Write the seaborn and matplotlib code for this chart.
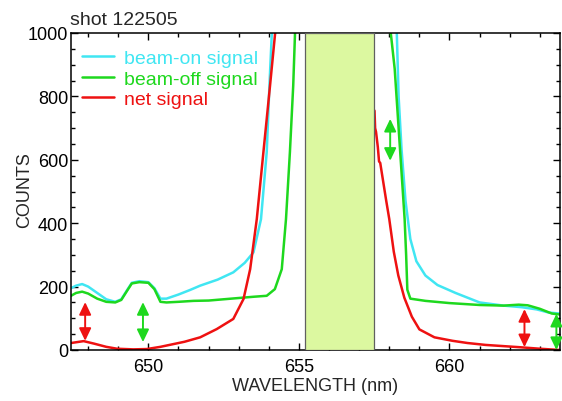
import numpy as np
import pandas as pd
import matplotlib
matplotlib.use("Agg")
import matplotlib.pyplot as plt
from matplotlib.ticker import MultipleLocator
import seaborn as sns

# ---------------- data ----------------
title = "shot 122505"
xlabel = "WAVELENGTH (nm)"
ylabel = "COUNTS"
labels = ["beam-on signal", "beam-off signal", "net signal"]

on_wl = [647.43, 647.6, 647.8, 648.0, 648.3, 648.6, 648.9, 649.1, 649.3, 649.45,
         649.7, 650.0, 650.2, 650.4, 650.6, 651.0, 651.4, 651.72, 652.3, 652.82,
         653.2, 653.49, 653.74, 653.93, 654.02, 654.1, 654.3,
         658.1, 658.25, 658.31, 658.41, 658.54, 658.7, 658.9, 659.2, 659.6, 660.2,
         661.0, 661.8, 662.4, 662.9, 663.3, 663.67]
on_counts = [195, 203, 208, 200, 180, 160, 152, 160, 190, 212,
             217, 214, 195, 162, 162, 175, 190, 203, 222, 245,
             275, 308, 413, 624, 834, 1000, 1400,
             1400, 1000, 800, 630, 470, 350, 280, 235, 205, 180,
             150, 140, 135, 128, 118, 115]

off_wl = [647.43, 647.6, 647.8, 648.0, 648.3, 648.6, 648.9, 649.1, 649.3, 649.45,
          649.7, 650.0, 650.2, 650.4, 650.6, 651.0, 651.5, 652.0, 652.5, 653.0,
          653.5, 653.93, 654.2, 654.43, 654.57, 654.70, 654.81, 654.87, 655.0,
          657.9, 658.05, 658.18, 658.29, 658.40, 658.51, 658.56, 658.6, 658.7, 659.2,
          660.0, 661.0, 661.8, 662.3, 662.6, 663.0, 663.4, 663.67]
off_counts = [171, 180, 184, 178, 162, 152, 150, 158, 188, 210,
              214, 212, 192, 152, 150, 152, 155, 156, 160, 164,
              168, 171, 192, 255, 413, 624, 834, 1000, 1400,
              1400, 1000, 887, 729, 571, 413, 300, 190, 162, 155,
              148, 142, 140, 143, 141, 130, 115, 112]

net_wl = [647.43, 647.85, 648.2, 648.6, 648.96, 649.5, 649.95, 650.4, 650.8, 651.2,
          651.72, 652.27, 652.82, 653.16, 653.38, 653.60, 653.82, 654.04, 654.21, 654.4,
          657.3, 657.45, 657.51, 657.53, 657.56, 657.62, 657.66, 657.7, 657.75, 657.9,
          658.0, 658.15, 658.3, 658.5, 658.75, 659.0, 659.5, 660.1, 660.6, 661.2,
          662.3, 663.0, 663.67]
net_counts = [22, 28, 20, 10, 4, 2, 3, 10, 18, 26,
              40, 66, 98, 161, 255, 413, 624, 834, 1000, 1400,
              1400, 760, 755, 700, 688, 640, 595, 590, 560, 470,
              413, 310, 235, 165, 105, 65, 40, 29, 22, 16,
              9, 4, 0]

band_lo, band_hi = 655.2, 657.5

# double arrows: x, y_bottom, y_top, colour
arrow_x = [647.9, 649.82, 658.03, 662.49, 663.55]
arrow_y0 = [29, 25, 597, 9, 0]
arrow_y1 = [151, 151, 729, 129, 114]
arrow_c = ["red", "green", "green", "red", "green"]

colors = {"beam-on signal": "#40e6f2", "beam-off signal": "#1ed81e", "net signal": "#ee1111"}
arrow_cols = {"red": "#ee1111", "green": "#1ed81e"}

# ---------------- plotting ----------------
sns.set_style("ticks")
plt.rcParams["font.family"] = ["Liberation Sans", "DejaVu Sans"]

fig = plt.figure(figsize=(5.62, 4.02), dpi=100)
ax = fig.add_axes([71 / 562, 1 - 351 / 402, 489 / 562, 317 / 402])

series = [(labels[0], on_wl, on_counts), (labels[1], off_wl, off_counts), (labels[2], net_wl, net_counts)]
for name, wl, cnt in series:
    df = pd.DataFrame({"wl": wl, "counts": cnt})
    sns.lineplot(data=df, x="wl", y="counts", ax=ax, color=colors[name], lw=1.8,
                 sort=False, estimator=None, label=name, zorder=2)

ax.axvspan(band_lo, band_hi, facecolor="#dcf8a0", edgecolor="#606060", lw=0.9, zorder=3)

for x, y0, y1, c in zip(arrow_x, arrow_y0, arrow_y1, arrow_c):
    ax.annotate("", xy=(x, y0), xytext=(x, y1), xycoords="data",
                arrowprops=dict(arrowstyle="<|-|>,head_length=0.5,head_width=0.24",
                                color=arrow_cols[c], lw=1.4, shrinkA=0, shrinkB=0,
                                mutation_scale=15), zorder=4, annotation_clip=False)

ax.set_xlim(647.43, 663.67)
ax.set_ylim(0, 1000)
ax.set_xticks([650, 655, 660])
ax.xaxis.set_minor_locator(MultipleLocator(1))
ax.set_yticks([0, 200, 400, 600, 800, 1000])
ax.yaxis.set_minor_locator(MultipleLocator(50))
ax.tick_params(which="both", direction="in", top=True, right=True, width=1, colors="black",
               labelsize=13)
ax.tick_params(which="major", length=5)
ax.tick_params(which="minor", length=3)
ax.tick_params(axis="x", pad=6)
ax.tick_params(axis="y", pad=2)
for s in ax.spines.values():
    s.set_linewidth(1.1)
    s.set_color("black")

ax.set_xlabel(xlabel, fontsize=13, labelpad=1)
ax.set_ylabel(ylabel, fontsize=13)
ax.yaxis.set_label_coords(-0.078, 0.508)

fig.text(70 / 562, 1 - 25 / 402, title, fontsize=14, va="baseline", ha="left")

leg = ax.legend(loc="upper left", bbox_to_anchor=(0.022, 0.948), frameon=False, fontsize=14,
                handlelength=1.65, handletextpad=0.5, labelspacing=0.15, borderpad=0,
                borderaxespad=0)
for t, name in zip(leg.get_texts(), labels):
    t.set_color(colors[name])
for h in leg.get_lines():
    h.set_linewidth(1.8)

fig.savefig("out.png", dpi=100)
